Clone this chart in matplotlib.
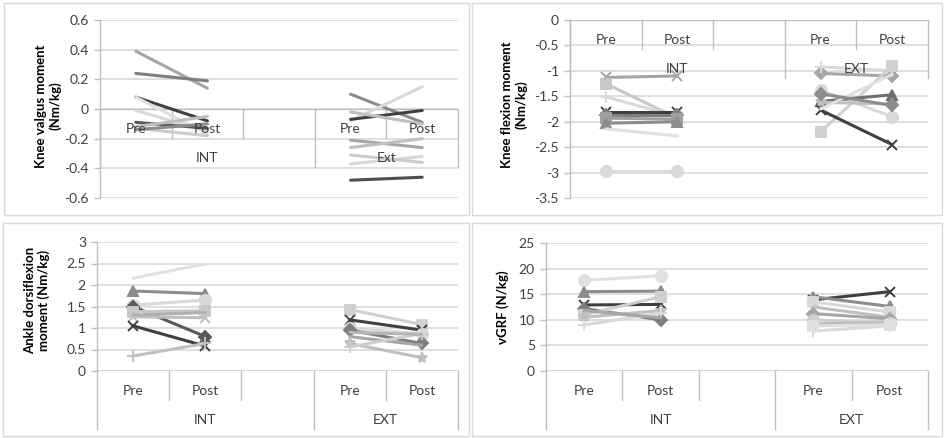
import matplotlib
matplotlib.use('Agg')
import matplotlib.pyplot as plt
from matplotlib import transforms
from matplotlib.patches import Rectangle
from matplotlib.ticker import FuncFormatter

plt.rcParams['font.family'] = ['Lato', 'DejaVu Sans']
plt.rcParams['axes.unicode_minus'] = False

# ---------------- data ----------------
categories = ["Pre", "Post", "", "Pre", "Post"]
int_cats = [0, 1]      # INT Pre, INT Post
ext_cats = [3, 4]      # EXT Pre, EXT Post
group_spans = [(0, 2), (3, 4)]

# Knee valgus moment (Nm/kg)
valgus_int_pre = [0.39, 0.24, 0.08, 0.08, -0.01, -0.09, -0.12, -0.13, -0.14]
valgus_int_post = [0.14, 0.19, -0.08, -0.17, -0.15, -0.13, -0.05, -0.18, -0.10]
valgus_ext_pre = [0.10, -0.08, -0.07, -0.02, -0.21, -0.26, -0.37, -0.31, -0.48]
valgus_ext_post = [-0.09, 0.15, -0.01, -0.10, -0.26, -0.20, -0.32, -0.36, -0.46]
valgus_groups = ["INT", "Ext"]
valgus_ticks = [-0.6, -0.4, -0.2, 0, 0.2, 0.4, 0.6]

# Knee flexion moment (Nm/kg)
flex_int_pre = [-1.13, -1.25, -1.51, -1.80, -1.87, -1.93, -2.03, -2.14, -2.97]
flex_int_post = [-1.10, -1.93, -1.90, -1.80, -1.87, -1.95, -2.00, -2.28, -2.97]
flex_ext_pre = [-1.05, -0.92, -2.20, -1.38, -1.60, -1.62, -1.77, -1.75, -1.45]
flex_ext_post = [-1.10, -1.00, -0.90, -1.90, -1.47, -1.65, -2.45, -1.07, -1.68]
flex_groups = ["INT", "EXT"]
flex_ticks = [-3.5, -3, -2.5, -2, -1.5, -1, -0.5, 0]

# Ankle dorsiflexion moment (Nm/kg)
ankle_int_pre = [2.16, 1.86, 1.53, 1.50, 1.26, 1.38, 1.05, 0.35, 1.30]
ankle_int_post = [2.49, 1.80, 1.65, 0.80, 1.24, 1.40, 0.58, 0.64, 1.36]
ankle_ext_pre = [1.43, 1.19, 0.99, 0.95, 0.80, 0.64, 0.56, 0.90]
ankle_ext_post = [1.08, 0.95, 0.87, 0.64, 0.60, 0.31, 0.87, 0.85]
ankle_groups = ["INT", "EXT"]
ankle_ticks = [0, 0.5, 1, 1.5, 2, 2.5, 3]

# vGRF (N/kg)
vgrf_int_pre = [17.7, 15.5, 12.9, 12.2, 11.0, 10.5, 9.0, 11.8]
vgrf_int_post = [18.6, 15.6, 13.0, 10.0, 14.5, 11.8, 11.3, 10.4]
vgrf_ext_pre = [13.9, 14.5, 13.5, 12.5, 11.2, 10.0, 9.2, 7.8, 8.8]
vgrf_ext_post = [15.5, 12.6, 11.5, 10.5, 10.2, 9.3, 9.6, 8.8, 9.0]
vgrf_groups = ["INT", "EXT"]
vgrf_ticks = [0, 5, 10, 15, 20, 25]

# ---------------- styles ----------------
valgus_int_colors = ['#a6a6a6', '#7f7f7f', '#404040', '#e0e0e0', '#d9d9d9', '#595959', '#bfbfbf', '#cccccc', '#8c8c8c']
valgus_ext_colors = ['#8c8c8c', '#d9d9d9', '#404040', '#bfbfbf', '#a6a6a6', '#bfbfbf', '#d9d9d9', '#cccccc', '#4d4d4d']

flex_int_colors = ['#a6a6a6', '#c8c8c8', '#d9d9d9', '#404040', '#7f7f7f', '#a0a0a0', '#8c8c8c', '#e0e0e0', '#dadada']
flex_int_markers = ['x', 's', '+', 'x', 'D', 's', '^', '', 'o']
flex_ext_colors = ['#a6a6a6', '#d9d9d9', '#d0d0d0', '#d9d9d9', '#6f6f6f', '#bfbfbf', '#404040', '#e0e0e0', '#8c8c8c']
flex_ext_markers = ['D', '+', 's', 'o', '^', '*', 'x', '', 'D']

ankle_int_colors = ['#e0e0e0', '#8c8c8c', '#d9d9d9', '#595959', '#bfbfbf', '#c8c8c8', '#404040', '#c0c0c0', '#b0b0b0']
ankle_int_markers = ['', '^', 'o', 'D', 'x', 's', 'x', '+', '']
ankle_ext_colors = ['#d0d0d0', '#404040', '#d9d9d9', '#7f7f7f', '#a6a6a6', '#bfbfbf', '#cfcfcf', '#b5b5b5']
ankle_ext_markers = ['s', 'x', 'o', 'D', '', '*', '+', '']

vgrf_int_colors = ['#e0e0e0', '#8c8c8c', '#404040', '#7f7f7f', '#d0d0d0', '#bfbfbf', '#d9d9d9', '#a6a6a6']
vgrf_int_markers = ['o', '^', 'x', 'D', 's', '*', '+', '']
vgrf_ext_colors = ['#404040', '#8c8c8c', '#d9d9d9', '#bfbfbf', '#a6a6a6', '#d0d0d0', '#bfbfbf', '#d9d9d9', '#e0e0e0']
vgrf_ext_markers = ['x', '^', 's', '', 'D', 'o', '', '+', 's']

W, H = 946, 438
fig = plt.figure(figsize=(W / 100, H / 100), dpi=100)

GRID = '#d9d9d9'
AXC = '#bfbfbf'
TXT = '#404040'
MSIZE = {'o': 8, 's': 7.5, 'D': 6.5, '^': 7.5, 'x': 7, '*': 8, '+': 8}


def px_axes(x0, x1, ytop, ybot):
    return fig.add_axes([x0 / W, 1 - ybot / H, (x1 - x0) / W, (ybot - ytop) / H])


def frame(x0, y0, x1, y1):
    fig.add_artist(Rectangle((x0 / W, 1 - y1 / H), (x1 - x0) / W, (y1 - y0) / H,
                             transform=fig.transFigure, fill=False, ec='#d9d9d9', lw=1.0))


def draw_panel(ax, ticks, ipre, ipost, epre, epost, icol, ecol, imk, emk, gnames, lw=2.2):
    ax.set_xlim(-0.5, len(categories) - 0.5)
    ax.set_ylim(min(ticks), max(ticks))
    ax.set_yticks(ticks)
    ax.yaxis.set_major_formatter(FuncFormatter(lambda v, p: ('%g' % round(v, 3))))
    for s in ['top', 'right', 'bottom']:
        ax.spines[s].set_visible(False)
    ax.spines['left'].set_color(AXC)
    ax.spines['left'].set_linewidth(1.0)
    ax.set_xticks([])
    ax.tick_params(axis='y', length=4, color=AXC, width=1.0, pad=4, labelsize=10, labelcolor=TXT)
    for t in ticks:
        ax.axhline(t, color=GRID, lw=1.2, zorder=0)
    ax.axhline(0, color=AXC, lw=1.0, zorder=0.5)

    for pre, post, cols, mks, xs in [(ipre, ipost, icol, imk, int_cats), (epre, epost, ecol, emk, ext_cats)]:
        for i in range(len(pre)):
            m = mks[i] if mks is not None else ''
            ax.plot(xs, [pre[i], post[i]],
                    color=cols[i], lw=lw, marker=m if m else None, ms=MSIZE.get(m, 7),
                    mew=1.4, solid_capstyle='round', clip_on=False, zorder=2)

    # multi-level category axis (pixel offsets below the y=0 line)
    fig.canvas.draw()
    y0d = ax.transData.transform((0, 0))[1]
    T = transforms.blended_transform_factory(ax.transData, transforms.Affine2D().translate(0, y0d))
    n = len(categories)
    row = 29
    group_starts = [s - 0.5 for s, e in group_spans[1:]]
    for k in range(1, n):
        b = k - 0.5
        depth = 2 * row if any(abs(b - g) < 1e-9 for g in group_starts) else row
        ax.plot([b, b], [0, -depth], transform=T, color=AXC, lw=1.0, clip_on=False, zorder=1)
    for b in (-0.5, n - 0.5):
        ax.plot([b, b], [0, -2 * row], transform=T, color=AXC, lw=1.0, clip_on=False, zorder=1)
    for k, c in enumerate(categories):
        if c:
            ax.text(k, -20, c, transform=T, ha='center', va='center', fontsize=10, color=TXT)
    for (s, e), g in zip(group_spans, gnames):
        ax.text((s + e) / 2, -49, g, transform=T, ha='center', va='center', fontsize=10, color=TXT)


frame(4, 3, 469, 215)
frame(472, 3, 942, 215)
frame(3, 223, 469, 436)
frame(472, 223, 942, 436)

ax1 = px_axes(100, 458, 20, 198)
draw_panel(ax1, valgus_ticks, valgus_int_pre, valgus_int_post, valgus_ext_pre, valgus_ext_post,
           valgus_int_colors, valgus_ext_colors, None, None, valgus_groups)
ax2 = px_axes(570, 928, 20, 198)
draw_panel(ax2, flex_ticks, flex_int_pre, flex_int_post, flex_ext_pre, flex_ext_post,
           flex_int_colors, flex_ext_colors, flex_int_markers, flex_ext_markers, flex_groups)
ax3 = px_axes(97, 458, 242, 371)
draw_panel(ax3, ankle_ticks, ankle_int_pre, ankle_int_post, ankle_ext_pre, ankle_ext_post,
           ankle_int_colors, ankle_ext_colors, ankle_int_markers, ankle_ext_markers, ankle_groups)
ax4 = px_axes(546, 928, 243, 371)
draw_panel(ax4, vgrf_ticks, vgrf_int_pre, vgrf_int_post, vgrf_ext_pre, vgrf_ext_post,
           vgrf_int_colors, vgrf_ext_colors, vgrf_int_markers, vgrf_ext_markers, vgrf_groups)

lab = dict(rotation=90, ha='center', va='center', fontsize=9.5, fontweight='bold', color='#000000',
           linespacing=1.15)
fig.text(48 / W, 1 - 106 / H, "Knee valgus moment\n(Nm/kg)", **lab)
fig.text(514 / W, 1 - 105 / H, "Knee flexion moment\n(Nm/kg)", **lab)
fig.text(37 / W, 1 - 300 / H, "Ankle dorsiflexion\nmoment (Nm/kg)", **lab)
fig.text(503 / W, 1 - 307 / H, "vGRF (N/kg)", **lab)

fig.savefig('out.png', dpi=100)
